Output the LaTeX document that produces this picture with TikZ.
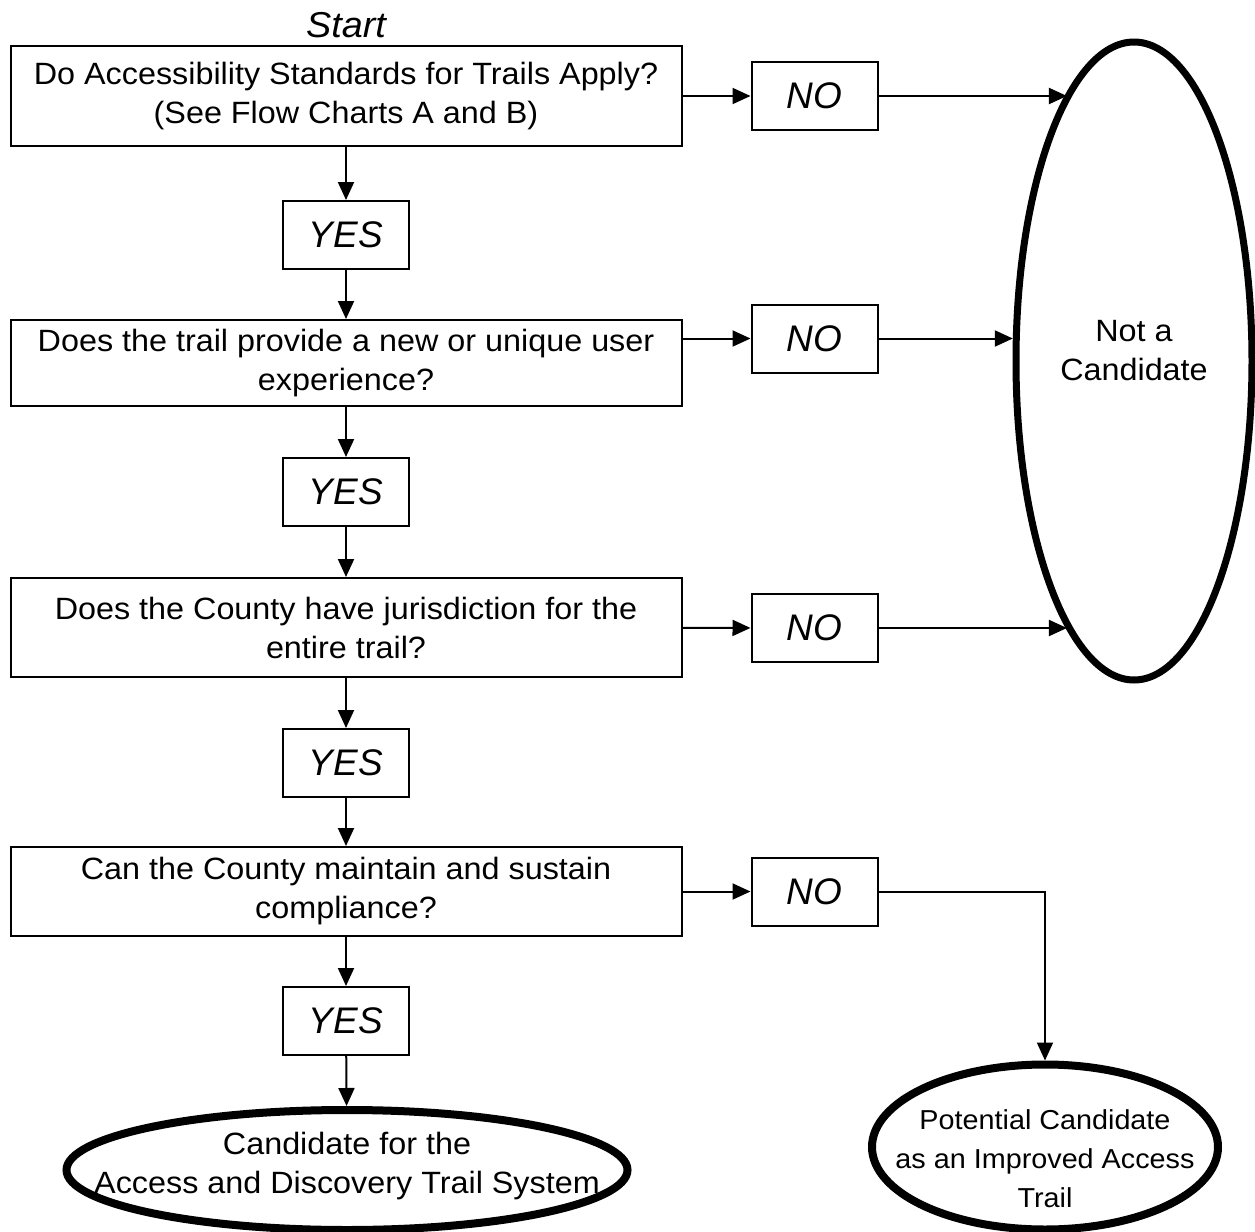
\documentclass[tikz,border=0pt]{standalone}
\usepackage{fontspec}
\setmainfont{Liberation Sans}
\newfontfamily\ancho{Liberation Sans}[FakeStretch=1.05]
\usetikzlibrary{shapes.geometric,arrows.meta}

\begin{document}
\begin{tikzpicture}[x=0.5pt,y=-0.5pt,
  pregunta/.style={draw, line width=1pt, minimum width=335.5pt, inner sep=0pt,
    align=center, font=\ancho\fontsize{15.4pt}{19.5pt}\selectfont},
  resp/.style={draw, line width=1pt, minimum width=63pt, minimum height=34pt,
    inner sep=0pt, font=\fontsize{18.5pt}{22pt}\selectfont\itshape},
  fin/.style={draw, ellipse, line width=4pt, inner sep=0pt},
  texto/.style={align=center, font=\ancho\fontsize{15.4pt}{19.5pt}\selectfont},
  flecha/.style={line width=1pt, -{Triangle[length=9pt,width=8pt]}}]
  \useasboundingbox (0,0) rectangle (1255,1232);

  % Nodos
  \node[font=\ancho\fontsize{18pt}{20pt}\selectfont\itshape] (inicio) at (346,25) {Start};
  \node[pregunta, minimum height=50pt] (q1) at (346,96)
    {Do Accessibility Standards for Trails Apply?\\(See Flow Charts A and B)};
  \node[resp] (si1) at (346,235) {YES};
  \node[pregunta, minimum height=43pt] (q2) at (346,363)
    {Does the trail provide a new or unique user\\experience?};
  \node[resp] (si2) at (346,492) {YES};
  \node[pregunta, minimum height=49.5pt] (q3) at (346,627.5)
    {Does the County have jurisdiction for the\\entire trail?};
  \node[resp] (si3) at (346,763) {YES};
  \node[pregunta, minimum height=44.5pt] (q4) at (346,891.5)
    {Can the County maintain and sustain\\compliance?};
  \node[resp] (si4) at (346,1021) {YES};

  \node[resp] (no1) at (814.5,96) {NO};
  \node[resp] (no2) at (814.5,338.5) {NO};
  \node[resp] (no3) at (814.5,628) {NO};
  \node[resp] (no4) at (814.5,891.5) {NO};

  \node[fin, line width=3.5pt, minimum width=118pt, minimum height=319pt,
    label={[texto, yshift=5pt]center:{Not a\\Candidate}}] (nocand) at (1134,361) {};
  \node[fin, minimum width=280.5pt, minimum height=60pt,
    label={[texto, yshift=2pt]center:{Candidate for the\\Access and Discovery Trail System}}] (cand) at (347,1170) {};
  \node[fin, minimum width=173pt, minimum height=82.5pt,
    label={[texto, yshift=-6pt, font=\ancho\fontsize{13.7pt}{19.5pt}\selectfont]center:{Potential Candidate\\as an Improved Access\\Trail}}] (pot) at (1045,1147) {};

  % Flechas
  \draw[flecha] (q1) -- (si1);
  \draw[flecha] (si1) -- (q2);
  \draw[flecha] (q2) -- (si2);
  \draw[flecha] (si2) -- (q3);
  \draw[flecha] (q3) -- (si3);
  \draw[flecha] (si3) -- (q4);
  \draw[flecha] (q4) -- (si4);
  \draw[flecha] (si4) -- (cand);

  \draw[flecha] (q1) -- (no1);
  \draw[flecha] (q2.east |- no2) -- (no2);
  \draw[flecha] (q3) -- (no3);
  \draw[flecha] (q4) -- (no4);

  \draw[flecha] (no1) -- (no1 -| nocand.104);
  \draw[flecha] (no2) -- (no2 -| nocand.169);
  \draw[flecha] (no3) -- (no3 -| nocand.256);
  \draw[flecha] (no4) -| (pot);
\end{tikzpicture}
\end{document}
